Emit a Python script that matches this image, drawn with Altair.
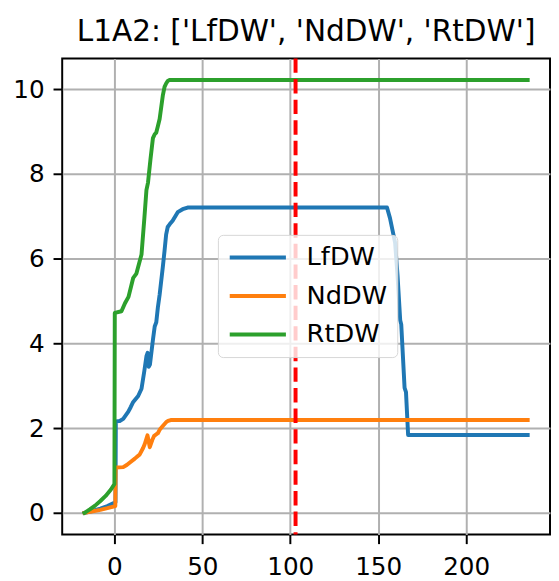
import altair as alt
import pandas as pd

series_names = ["LfDW", "NdDW", "RtDW"]
colors = ["#1f77b4", "#ff7f0e", "#2ca02c"]

x_lf = [-17, -12, -8, -4, -1, 0.6, 0.8, 3, 5, 7.9, 9.3, 10.7, 13.5, 15.4, 17, 18.2, 18.9, 19.5, 20.2,
        21.9, 22.9, 23.8, 24.7, 25.7, 27.5, 28.5, 29.4, 30.3, 31.5, 33.1, 36, 38.8, 41.6,
        155, 156.7, 158, 159.6, 161, 162.5, 163.1, 165, 165.8, 167, 235]
y_lf = [0, 0.05, 0.1, 0.16, 0.22, 0.25, 2.16, 2.17, 2.22, 2.39, 2.5, 2.62, 2.76, 2.93, 3.35, 3.7, 3.78, 3.45, 3.5,
        4.09, 4.4, 4.5, 4.85, 5.15, 5.8, 6.19, 6.57, 6.75, 6.82, 6.9, 7.1, 7.17, 7.21,
        7.21, 6.96, 6.7, 6.38, 5.6, 4.55, 4.45, 2.95, 2.85, 1.84, 1.84]

x_nd = [-17, -13, -8, -4, 0.5, 0.7, 5, 7, 8.8, 11.6, 13, 14.4, 16.3, 17.2, 18.8, 20.1, 21.5, 22.6,
        24.7, 25.7, 27.5, 29.4, 30.5, 32, 235]
y_nd = [0, 0.03, 0.07, 0.11, 0.16, 1.07, 1.08, 1.13, 1.19, 1.28, 1.33, 1.38, 1.53, 1.62, 1.83, 1.55, 1.72, 1.82,
        1.88, 1.96, 2.05, 2.14, 2.17, 2.19, 2.19]

x_rt = [-17, -14, -11, -8, -5, -2, 0, 0.2, 4, 6, 8, 9.5, 10.7, 12.5, 14.4, 15.4, 17, 18.2, 19.1, 20.5,
        21.9, 22.9, 23.8, 24.7, 25.7, 27.5, 28.5, 29.4, 30.3, 31.3, 235]
y_rt = [0, 0.08, 0.17, 0.28, 0.4, 0.55, 0.68, 4.72, 4.76, 4.95, 5.1, 5.35, 5.55, 5.65, 5.95, 6.1, 6.95, 7.62, 7.8, 8.35,
        8.85, 8.94, 8.98, 9.13, 9.3, 9.85, 10.06, 10.14, 10.2, 10.22, 10.22]

vline_x = [103]
x_ticks = [0, 50, 100, 150, 200]
y_ticks = [0, 2, 4, 6, 8, 10]
x_domain = [-29.7, 247.7]
y_domain = [-0.511, 10.73]
title_text = "L1A2: ['LfDW', 'NdDW', 'RtDW']"

rows = []
for name, xs, ys in zip(series_names, [x_lf, x_nd, x_rt], [y_lf, y_nd, y_rt]):
    for i, (a, b) in enumerate(zip(xs, ys)):
        rows.append({"series": name, "x": a, "y": b, "i": i})
df = pd.DataFrame(rows)
vdf = pd.DataFrame({"x": vline_x})

xscale = alt.Scale(domain=x_domain, nice=False, zero=False)
yscale = alt.Scale(domain=y_domain, nice=False, zero=False)
xaxis = alt.Axis(values=x_ticks, title=None, labelPadding=11)
yaxis = alt.Axis(values=y_ticks, title=None, labelPadding=9)

lines = alt.Chart(df).mark_line(strokeWidth=4, strokeCap="square", strokeJoin="round").encode(
    x=alt.X("x:Q", scale=xscale, axis=xaxis),
    y=alt.Y("y:Q", scale=yscale, axis=yaxis),
    color=alt.Color("series:N", scale=alt.Scale(domain=series_names, range=colors),
                    legend=alt.Legend(title=None, orient="none", legendX=158, legendY=179,
                                      symbolType="stroke", symbolSize=3249, symbolStrokeWidth=4,
                                      clipHeight=26,
                                      labelFontSize=26, labelFont="DejaVu Sans", labelColor="black",
                                      labelOffset=19, rowPadding=13, padding=10,
                                      fillColor="rgba(255,255,255,0.8)", strokeColor="#d6d6d6",
                                      cornerRadius=5)),
    order="i:Q",
)

rule = alt.Chart(vdf).mark_rule(color="red", strokeWidth=4, strokeDash=[14.6, 6.3]).encode(
    x=alt.X("x:Q", scale=xscale, axis=xaxis)
)

chart = alt.layer(lines, rule).properties(
    width=495, height=483,
    title=alt.TitleParams(title_text, font="DejaVu Sans", fontSize=30, fontWeight="normal",
                          color="black", anchor="middle", frame="group", baseline="alphabetic",
                          offset=13, dy=27),
    autosize=alt.AutoSizeParams(type="none"),
    padding={"left": 55, "top": 47, "right": 1, "bottom": 43},
    background="white",
).configure_view(stroke="black", strokeWidth=2).configure_axis(
    grid=True, gridColor="#b0b0b0", gridWidth=2, domain=False,
    tickColor="black", tickWidth=2, tickSize=9.3,
    labelFont="DejaVu Sans", labelFontSize=25, labelColor="black",
)

chart.save("out.html", embed_options={"renderer": "svg", "actions": False})
